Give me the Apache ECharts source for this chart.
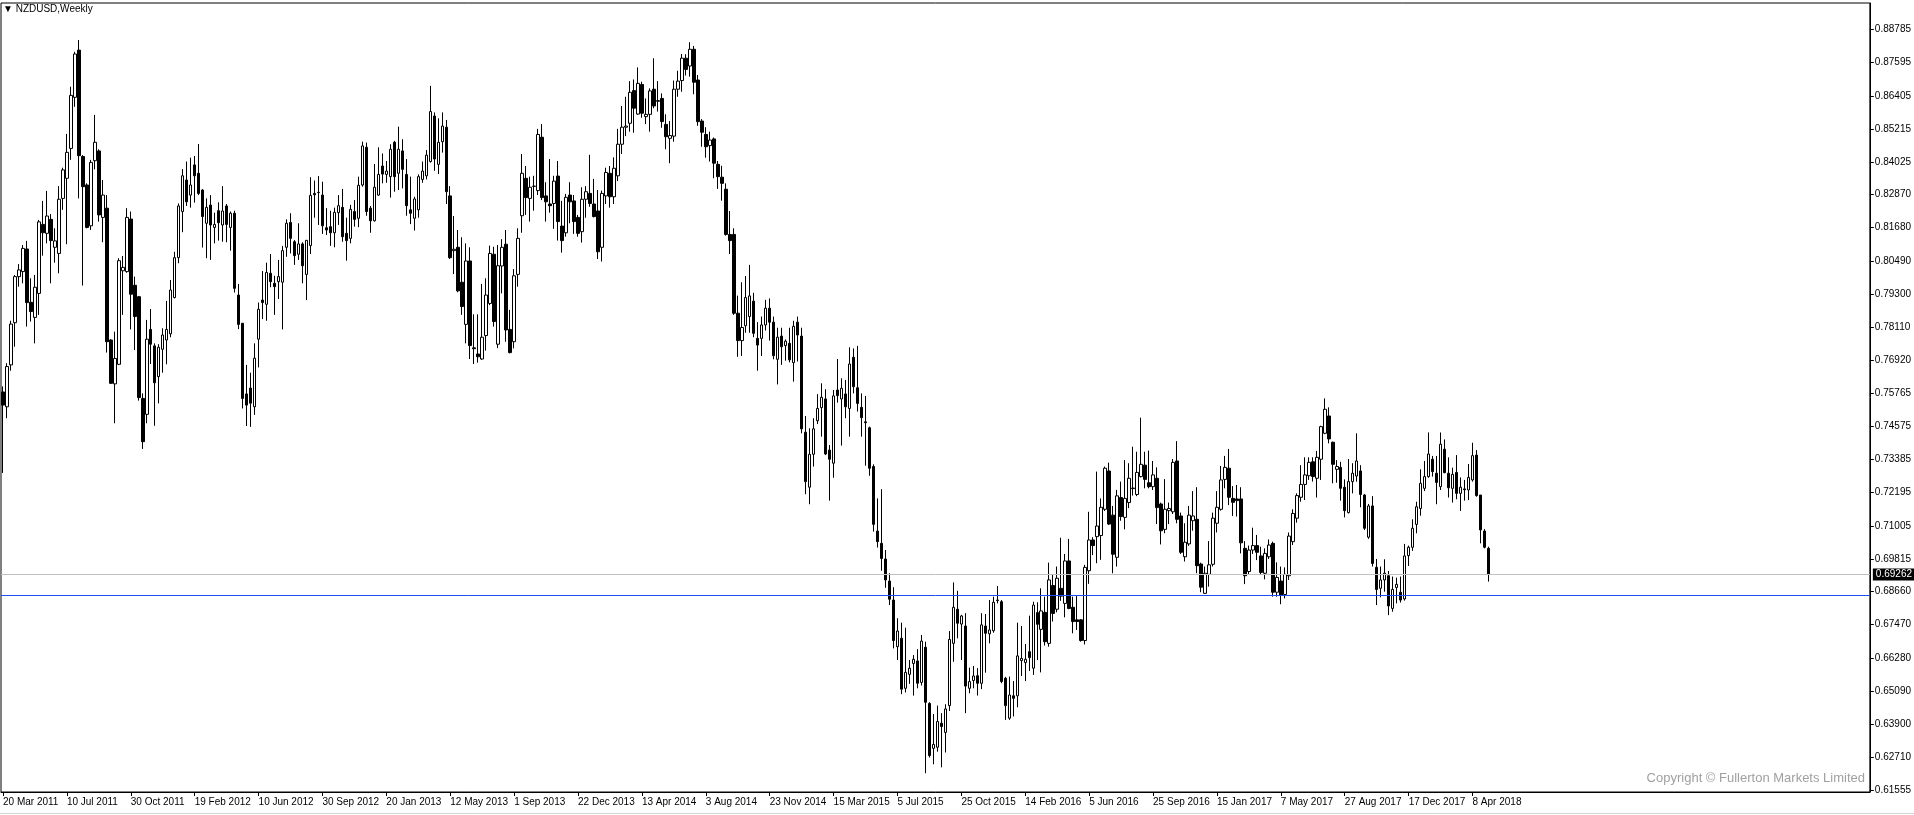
<!DOCTYPE html>
<html><head><meta charset="utf-8">
<script src="https://cdn.jsdelivr.net/npm/echarts@6/dist/echarts.min.js"></script>
<style>html,body{margin:0;padding:0;background:#fff}#c{width:1914px;height:815px}</style>
</head><body><div id="c"></div>
<script>
// Weekly NZDUSD bars, each row [open, high, low, close]; first week starts 20 Mar 2011
const firstWeek = '2011-03-20';
const bars2011 = [
[0.7580,0.7600,0.7290,0.7533],[0.7527,0.7683,0.7486,0.7671],[0.7677,0.7835,0.7656,0.7823],[0.7828,0.7999,0.7742,0.7993],
[0.7993,0.8038,0.7957,0.8017],[0.8011,0.8106,0.7969,0.8094],[0.8092,0.8121,0.7814,0.7900],[0.7901,0.7987,0.7832,0.7868],
[0.7847,0.7999,0.7754,0.7955],[0.7933,0.8196,0.7856,0.8189],[0.8180,0.8264,0.8068,0.8150],[0.8148,0.8300,0.8112,0.8210],
[0.8198,0.8217,0.7969,0.8122],[0.8098,0.8166,0.8043,0.8121],[0.8076,0.8317,0.8005,0.8270],[0.8273,0.8383,0.8232,0.8375],
[0.8345,0.8504,0.8109,0.8438],[0.8452,0.8673,0.8411,0.8642],[0.8635,0.8798,0.8601,0.8790],[0.8804,0.8840,0.8273,0.8426],
[0.8423,0.8428,0.7961,0.8315],[0.8321,0.8327,0.8166,0.8169],[0.8175,0.8411,0.8160,0.8402],[0.8408,0.8572,0.8377,0.8474],
[0.8443,0.8449,0.8190,0.8214],[0.8205,0.8339,0.8116,0.8285],[0.8238,0.8285,0.7721,0.7760],[0.7766,0.7769,0.7609,0.7611],
[0.7609,0.7796,0.7468,0.7700],[0.7679,0.8059,0.7677,0.8050],[0.8014,0.8067,0.7856,0.8026],[0.8011,0.8238,0.8007,0.8205],
[0.8199,0.8226,0.7804,0.7930],[0.7962,0.7993,0.7730,0.7850],[0.7921,0.7924,0.7549,0.7560],[0.7557,0.7575,0.7376,0.7402],
[0.7500,0.7838,0.7468,0.7769],[0.7804,0.7877,0.7680,0.7751],[0.7745,0.7754,0.7459,0.7613],[0.7635,0.7751,0.7539,0.7740],
[0.7733,0.7808,0.7649,0.7784]
];
const bars2012 = [
[0.7766,0.7906,0.7679,0.7804],[0.7788,0.7981,0.7776,0.7945],[0.7918,0.8082,0.7915,0.8061],[0.8061,0.8255,0.8041,0.8246],
[0.8226,0.8378,0.8152,0.8354],[0.8339,0.8405,0.8246,0.8261],[0.8285,0.8419,0.8240,0.8321],[0.8393,0.8425,0.8258,0.8354],
[0.8363,0.8468,0.8285,0.8291],[0.8303,0.8306,0.8097,0.8208],[0.8184,0.8273,0.8059,0.8241],[0.8249,0.8285,0.8053,0.8178],
[0.8169,0.8222,0.8112,0.8180],[0.8229,0.8259,0.8122,0.8186],[0.8178,0.8317,0.8118,0.8228],[0.8246,0.8253,0.8116,0.8180],
[0.8169,0.8226,0.8086,0.8220],[0.8220,0.8229,0.7936,0.7951],[0.7927,0.7967,0.7805,0.7822],[0.7826,0.7826,0.7521,0.7557],
[0.7573,0.7677,0.7458,0.7533],[0.7594,0.7649,0.7455,0.7540],[0.7527,0.7754,0.7498,0.7701],[0.7769,0.7900,0.7668,0.7876],
[0.7909,0.8013,0.7841,0.7900],[0.7894,0.8043,0.7835,0.8008],[0.8005,0.8074,0.7955,0.7975],[0.7969,0.7996,0.7856,0.7957],
[0.7975,0.8053,0.7913,0.7993],[0.7973,0.8103,0.7804,0.8086],[0.8098,0.8198,0.8064,0.8184],[0.8187,0.8220,0.8076,0.8130],
[0.8118,0.8124,0.8035,0.8068],[0.8073,0.8184,0.8053,0.8110],[0.8110,0.8116,0.7969,0.8032],[0.8001,0.8124,0.7909,0.8123],
[0.8104,0.8349,0.8074,0.8284],[0.8291,0.8337,0.8204,0.8286],[0.8295,0.8353,0.8178,0.8294],[0.8285,0.8333,0.8146,0.8175],
[0.8168,0.8238,0.8142,0.8160],[0.8172,0.8229,0.8103,0.8150],[0.8150,0.8240,0.8098,0.8223],[0.8222,0.8285,0.8178,0.8247],
[0.8241,0.8307,0.8118,0.8136],[0.8148,0.8204,0.8050,0.8122],[0.8130,0.8250,0.8112,0.8234],[0.8226,0.8267,0.8172,0.8198],
[0.8202,0.8351,0.8170,0.8320],[0.8321,0.8476,0.8315,0.8461],[0.8456,0.8473,0.8211,0.8226],[0.8238,0.8246,0.8150,0.8193],
[0.8193,0.8396,0.8190,0.8313]
];
const bars2013 = [
[0.8285,0.8456,0.8282,0.8359],[0.8389,0.8434,0.8327,0.8360],[0.8359,0.8407,0.8329,0.8371],[0.8351,0.8467,0.8276,0.8449],
[0.8474,0.8479,0.8297,0.8351],[0.8363,0.8530,0.8303,0.8449],[0.8443,0.8485,0.8309,0.8377],[0.8359,0.8414,0.8211,0.8247],
[0.8232,0.8351,0.8181,0.8220],[0.8202,0.8279,0.8158,0.8271],[0.8232,0.8359,0.8204,0.8351],[0.8341,0.8405,0.8329,0.8371],
[0.8354,0.8446,0.8341,0.8428],[0.8405,0.8676,0.8401,0.8584],[0.8568,0.8581,0.8372,0.8414],[0.8395,0.8560,0.8360,0.8474],
[0.8476,0.8581,0.8437,0.8532],[0.8528,0.8554,0.8253,0.8297],[0.8282,0.8317,0.8056,0.8061],[0.8086,0.8210,0.8002,0.8091],
[0.8098,0.8160,0.7937,0.7942],[0.7973,0.8134,0.7856,0.7886],[0.7822,0.8112,0.7754,0.8049],[0.8049,0.8098,0.7698,0.7746],
[0.7738,0.7858,0.7680,0.7735],[0.7716,0.7858,0.7685,0.7706],[0.7698,0.7967,0.7695,0.7776],[0.7782,0.7987,0.7728,0.7927],
[0.7897,0.8104,0.7891,0.8076],[0.8073,0.8100,0.7814,0.7832],[0.7751,0.8106,0.7737,0.8032],[0.8031,0.8127,0.7933,0.8098],
[0.8109,0.8160,0.7760,0.7802],[0.7804,0.7874,0.7718,0.7721],[0.7760,0.8020,0.7736,0.7996],[0.8001,0.8166,0.7957,0.8130],
[0.8211,0.8432,0.8150,0.8363],[0.8345,0.8389,0.8214,0.8276],[0.8273,0.8351,0.8190,0.8313],[0.8316,0.8354,0.8229,0.8317],
[0.8301,0.8522,0.8285,0.8502],[0.8492,0.8539,0.8267,0.8276],[0.8282,0.8331,0.8190,0.8261],[0.8253,0.8414,0.8222,0.8247],
[0.8255,0.8354,0.8164,0.8335],[0.8353,0.8407,0.8122,0.8190],[0.8174,0.8264,0.8079,0.8122],[0.8150,0.8289,0.8136,0.8277],
[0.8285,0.8331,0.8184,0.8261],[0.8264,0.8285,0.8146,0.8190],[0.8205,0.8214,0.8136,0.8148],[0.8154,0.8313,0.8115,0.8270]
];
const bars2014 = [
[0.8270,0.8317,0.8204,0.8297],[0.8291,0.8429,0.8243,0.8255],[0.8253,0.8343,0.8205,0.8208],[0.8228,0.8303,0.8056,0.8082],
[0.8098,0.8301,0.8047,0.8291],[0.8282,0.8383,0.8253,0.8366],[0.8363,0.8389,0.8240,0.8279],[0.8279,0.8420,0.8253,0.8381],
[0.8354,0.8522,0.8335,0.8467],[0.8467,0.8604,0.8432,0.8528],[0.8528,0.8637,0.8496,0.8532],[0.8542,0.8693,0.8512,0.8653],
[0.8659,0.8699,0.8508,0.8596],[0.8575,0.8742,0.8572,0.8685],[0.8681,0.8691,0.8562,0.8578],[0.8566,0.8631,0.8539,0.8574],
[0.8574,0.8667,0.8512,0.8658],[0.8664,0.8775,0.8596,0.8604],[0.8623,0.8693,0.8584,0.8621],[0.8631,0.8649,0.8526,0.8548],
[0.8538,0.8574,0.8449,0.8494],[0.8488,0.8550,0.8399,0.8498],[0.8496,0.8695,0.8476,0.8664],[0.8664,0.8730,0.8637,0.8693],
[0.8695,0.8790,0.8655,0.8775],[0.8775,0.8789,0.8713,0.8735],[0.8747,0.8832,0.8709,0.8807],[0.8807,0.8819,0.8646,0.8689],
[0.8697,0.8715,0.8533,0.8548],[0.8550,0.8557,0.8458,0.8510],[0.8502,0.8528,0.8419,0.8458],[0.8462,0.8512,0.8405,0.8482],
[0.8486,0.8491,0.8345,0.8399],[0.8395,0.8407,0.8307,0.8351],[0.8349,0.8390,0.8265,0.8327],[0.8306,0.8327,0.8140,0.8144],
[0.8144,0.8228,0.8074,0.8122],[0.8144,0.8166,0.7856,0.7862],[0.7862,0.7925,0.7706,0.7764],[0.7764,0.7973,0.7709,0.7811],
[0.7817,0.7995,0.7792,0.7918],[0.7850,0.8035,0.7792,0.7924],[0.7905,0.7935,0.7776,0.7790],[0.7772,0.7830,0.7656,0.7748],
[0.7772,0.7850,0.7709,0.7820],[0.7820,0.7910,0.7800,0.7880],[0.7880,0.7915,0.7764,0.7830],[0.7830,0.7850,0.7697,0.7710],
[0.7697,0.7810,0.7607,0.7776],[0.7780,0.7810,0.7677,0.7742],[0.7746,0.7768,0.7692,0.7762],[0.7754,0.7810,0.7686,0.7695]
];
const bars2015 = [
[0.7685,0.7835,0.7617,0.7815],[0.7830,0.7850,0.7689,0.7784],[0.7780,0.7810,0.7432,0.7448],[0.7436,0.7494,0.7214,0.7259],
[0.7239,0.7450,0.7178,0.7357],[0.7357,0.7486,0.7313,0.7448],[0.7477,0.7572,0.7465,0.7521],[0.7524,0.7611,0.7420,0.7561],
[0.7555,0.7590,0.7354,0.7358],[0.7372,0.7390,0.7191,0.7339],[0.7325,0.7587,0.7273,0.7566],[0.7587,0.7698,0.7542,0.7567],
[0.7555,0.7629,0.7388,0.7593],[0.7573,0.7623,0.7486,0.7527],[0.7521,0.7740,0.7420,0.7680],[0.7704,0.7736,0.7575,0.7599],
[0.7595,0.7745,0.7510,0.7539],[0.7525,0.7575,0.7420,0.7488],[0.7473,0.7566,0.7316,0.7470],[0.7452,0.7456,0.7280,0.7307],
[0.7313,0.7321,0.7080,0.7106],[0.7082,0.7199,0.7023,0.7044],[0.7038,0.7232,0.6940,0.6984],[0.6982,0.7014,0.6879,0.6907],
[0.6903,0.6931,0.6817,0.6838],[0.6835,0.6881,0.6662,0.6690],[0.6668,0.6770,0.6620,0.6724],[0.6698,0.6754,0.6498,0.6516],
[0.6519,0.6736,0.6504,0.6576],[0.6569,0.6620,0.6535,0.6591],[0.6608,0.6638,0.6493,0.6623],[0.6617,0.6659,0.6519,0.6537],
[0.6540,0.6710,0.6529,0.6688],[0.6666,0.6686,0.6215,0.6469],[0.6465,0.6469,0.6271,0.6278],[0.6304,0.6427,0.6247,0.6318],
[0.6308,0.6457,0.6292,0.6400],[0.6394,0.6430,0.6236,0.6382],[0.6361,0.6462,0.6289,0.6445],[0.6457,0.6724,0.6438,0.6694],
[0.6680,0.6898,0.6614,0.6809],[0.6802,0.6868,0.6698,0.6752],[0.6749,0.6782,0.6620,0.6778],[0.6742,0.6788,0.6430,0.6527],
[0.6519,0.6593,0.6501,0.6543],[0.6547,0.6599,0.6519,0.6563],[0.6564,0.6591,0.6493,0.6537],[0.6537,0.6788,0.6516,0.6746],
[0.6742,0.6785,0.6575,0.6716],[0.6714,0.6835,0.6680,0.6728],[0.6725,0.6847,0.6718,0.6827],[0.6833,0.6885,0.6823,0.6835]
];
const bars2016 = [
[0.6829,0.6835,0.6537,0.6543],[0.6555,0.6560,0.6406,0.6457],[0.6412,0.6561,0.6406,0.6495],[0.6492,0.6545,0.6418,0.6483],
[0.6492,0.6754,0.6451,0.6635],[0.6618,0.6742,0.6563,0.6626],[0.6611,0.6678,0.6545,0.6623],[0.6650,0.6779,0.6581,0.6629],
[0.6591,0.6829,0.6567,0.6817],[0.6790,0.6827,0.6620,0.6748],[0.6730,0.6877,0.6576,0.6796],[0.6791,0.6847,0.6672,0.6686],
[0.6680,0.6969,0.6668,0.6907],[0.6887,0.6925,0.6758,0.6787],[0.6802,0.6955,0.6791,0.6913],[0.6877,0.7058,0.6832,0.6849],
[0.6823,0.7000,0.6773,0.6975],[0.6975,0.7054,0.6802,0.6805],[0.6809,0.6847,0.6716,0.6758],[0.6764,0.6849,0.6728,0.6758],
[0.6764,0.6766,0.6686,0.6690],[0.6690,0.6961,0.6676,0.6952],[0.6940,0.7151,0.6893,0.7050],[0.7050,0.7060,0.6996,0.7030],
[0.7062,0.7295,0.6967,0.7100],[0.7066,0.7199,0.6979,0.7167],[0.7160,0.7313,0.7154,0.7307],[0.7297,0.7327,0.7104,0.7107],
[0.7139,0.7172,0.6931,0.6999],[0.6988,0.7229,0.6955,0.7208],[0.7202,0.7259,0.7119,0.7134],[0.7131,0.7336,0.7088,0.7199],
[0.7184,0.7325,0.7164,0.7271],[0.7234,0.7384,0.7209,0.7236],[0.7213,0.7366,0.7207,0.7292],[0.7277,0.7488,0.7274,0.7321],
[0.7318,0.7366,0.7235,0.7267],[0.7255,0.7370,0.7235,0.7241],[0.7241,0.7333,0.7229,0.7283],[0.7271,0.7310,0.7107,0.7166],
[0.7179,0.7184,0.7034,0.7083],[0.7088,0.7268,0.7074,0.7160],[0.7155,0.7184,0.7107,0.7163],[0.7151,0.7340,0.7143,0.7328],
[0.7333,0.7404,0.7110,0.7124],[0.7136,0.7148,0.7000,0.7006],[0.6990,0.7110,0.6973,0.7042],[0.7036,0.7172,0.7029,0.7139],
[0.7119,0.7225,0.7083,0.7136],[0.7124,0.7239,0.6931,0.6958],[0.6964,0.6969,0.6863,0.6881],[0.6859,0.6955,0.6857,0.6931]
];
const bars2017 = [
[0.6927,0.7046,0.6883,0.6961],[0.6963,0.7148,0.6955,0.7128],[0.7110,0.7225,0.7077,0.7167],[0.7160,0.7315,0.7155,0.7265],
[0.7267,0.7351,0.7235,0.7310],[0.7307,0.7376,0.7175,0.7203],[0.7199,0.7243,0.7136,0.7185],[0.7197,0.7247,0.7134,0.7191],
[0.7197,0.7239,0.7002,0.7040],[0.7020,0.7046,0.6892,0.6922],[0.6937,0.7030,0.6925,0.7014],[0.7014,0.7094,0.7000,0.7030],
[0.7030,0.7068,0.6978,0.7006],[0.6993,0.7026,0.6928,0.6934],[0.6931,0.7020,0.6909,0.7002],[0.6990,0.7052,0.6982,0.7032],
[0.7038,0.7044,0.6847,0.6863],[0.6863,0.6970,0.6847,0.6916],[0.6903,0.6955,0.6820,0.6853],[0.6855,0.6952,0.6841,0.6927],
[0.6922,0.7077,0.6907,0.7064],[0.7044,0.7160,0.7032,0.7145],[0.7128,0.7217,0.7112,0.7209],[0.7203,0.7318,0.7187,0.7249],
[0.7249,0.7346,0.7193,0.7283],[0.7280,0.7346,0.7265,0.7328],[0.7330,0.7346,0.7259,0.7277],[0.7271,0.7369,0.7202,0.7346],
[0.7339,0.7459,0.7265,0.7456],[0.7432,0.7557,0.7429,0.7518],[0.7494,0.7525,0.7396,0.7412],[0.7400,0.7402,0.7253,0.7321],
[0.7303,0.7336,0.7255,0.7313],[0.7310,0.7330,0.7191,0.7235],[0.7239,0.7267,0.7131,0.7155],[0.7148,0.7340,0.7145,0.7259],
[0.7259,0.7325,0.7217,0.7289],[0.7279,0.7432,0.7259,0.7333],[0.7297,0.7318,0.7167,0.7213],[0.7211,0.7215,0.7086,0.7092],
[0.7060,0.7179,0.7054,0.7172],[0.7172,0.7207,0.6955,0.6966],[0.6952,0.6982,0.6817,0.6873],[0.6877,0.6955,0.6845,0.6907],
[0.6907,0.6981,0.6865,0.6931],[0.6922,0.6939,0.6781,0.6814],[0.6805,0.6919,0.6793,0.6873],[0.6880,0.6915,0.6823,0.6891],
[0.6863,0.6919,0.6826,0.6835],[0.6839,0.7036,0.6833,0.6993],[0.6994,0.7030,0.6957,0.7024],[0.7024,0.7124,0.7011,0.7092],
[0.7106,0.7187,0.7074,0.7169]
];
const bars2018 = [
[0.7163,0.7303,0.7137,0.7253],[0.7235,0.7333,0.7225,0.7277],[0.7277,0.7435,0.7273,0.7358],[0.7339,0.7351,0.7277,0.7295],
[0.7289,0.7351,0.7178,0.7256],[0.7241,0.7435,0.7229,0.7393],[0.7375,0.7410,0.7289,0.7291],[0.7289,0.7346,0.7202,0.7237],
[0.7235,0.7309,0.7184,0.7285],[0.7292,0.7354,0.7196,0.7217],[0.7217,0.7274,0.7154,0.7239],[0.7233,0.7265,0.7191,0.7230],
[0.7229,0.7322,0.7193,0.7274],[0.7265,0.7398,0.7259,0.7352],[0.7354,0.7372,0.7205,0.7209],[0.7211,0.7211,0.7038,0.7086],
[0.7082,0.7089,0.7020,0.7024],[0.7020,0.7026,0.6901,0.69262]
];
const yTickValues = [0.88785,0.87595,0.86405,0.85215,0.84025,0.82870,0.81680,0.80490,0.79300,0.78110,0.76920,0.75765,
  0.74575,0.73385,0.72195,0.71005,0.69815,0.68660,0.67470,0.66280,0.65090,0.63900,0.62710,0.61555];
const bidPrice = 0.69262;
const levelPrice = 0.6852;
const labelEvery = 16;      // weeks between time labels
const totalSlots = 468;     // bar slots across the chart window (incl. right shift)

const bars = [].concat(bars2011, bars2012, bars2013, bars2014, bars2015, bars2016, bars2017, bars2018);
const MON = ['Jan','Feb','Mar','Apr','May','Jun','Jul','Aug','Sep','Oct','Nov','Dec'];
const t0 = Date.parse(firstWeek + 'T00:00:00Z');
const categories = [];
for (let i = 0; i < totalSlots; i++) {
  if (i < bars.length) {
    const d = new Date(t0 + i * 7 * 86400000);
    categories.push(d.getUTCDate() + ' ' + MON[d.getUTCMonth()] + ' ' + d.getUTCFullYear());
  } else categories.push('');
}
const candleData = bars.map(b => [b[0], b[3], b[2], b[1]]);

const chart = echarts.init(document.getElementById('c'), null, {renderer: 'canvas'});
const FONT = 'Liberation Sans';
const showIdx = (idx) => idx % labelEvery === 0 && idx < bars.length;
chart.setOption({
  animation: false,
  backgroundColor: '#fff',
  title: [
    {text: '\u25BC NZDUSD,Weekly', left: 3, top: 4, padding: 0,
     textStyle: {fontSize: 10, fontWeight: 'normal', color: '#000', fontFamily: FONT}},
    {text: 'Copyright \u00A9 Fullerton Markets Limited', right: 49, top: 772, padding: 0,
     textStyle: {fontSize: 13, fontWeight: 'normal', color: '#a0a0a0', fontFamily: FONT}}
  ],
  grid: {left: 0, top: 3, width: 1871, height: 789, show: true, borderColor: '#000', borderWidth: 1, backgroundColor: '#fff', containLabel: false},
  xAxis: {
    type: 'category', data: categories, boundaryGap: true,
    axisLine: {show: true, lineStyle: {color: '#000', width: 1}},
    axisTick: {show: true, alignWithLabel: true, length: 4, interval: (idx) => showIdx(idx), lineStyle: {color: '#000'}},
    axisLabel: {show: true, interval: (idx) => showIdx(idx), align: 'left', margin: 5, color: '#000', fontSize: 10, fontFamily: FONT},
    splitLine: {show: false}
  },
  yAxis: {
    type: 'value', position: 'right', min: 0.61477, max: 0.89727, scale: true,
    splitLine: {show: false},
    axisLine: {show: true, lineStyle: {color: '#000', width: 1}},
    axisTick: {show: true, length: 4, customValues: yTickValues, lineStyle: {color: '#000'}},
    axisLabel: {customValues: yTickValues, formatter: v => v.toFixed(5), color: '#000', fontSize: 10, fontFamily: FONT, margin: 5}
  },
  graphic: [
    {type: 'line', shape: {x1: 0, y1: 813.5, x2: 1914, y2: 813.5}, style: {stroke: '#d6d6d6', lineWidth: 1}, silent: true}
  ],
  series: [{
    type: 'candlestick',
    data: candleData,
    barWidth: 3,
    itemStyle: {color: '#ffffff', color0: '#000000', borderColor: '#000000', borderColor0: '#000000', borderWidth: 1},
    markLine: {
      silent: true, symbol: ['none', 'none'], animation: false, precision: 5,
      data: [
        {yAxis: bidPrice, lineStyle: {color: '#c0c0c0', width: 1, type: 'solid'},
         label: {show: true, position: 'end', formatter: bidPrice.toFixed(5), color: '#fff', backgroundColor: '#000',
                 padding: [1, 3, 1, 3], fontSize: 10, fontFamily: FONT, distance: 3}},
        {yAxis: levelPrice, lineStyle: {color: '#1e4ef0', width: 1, type: 'solid'}, label: {show: false}}
      ]
    }
  }]
});
</script>
</body></html>
